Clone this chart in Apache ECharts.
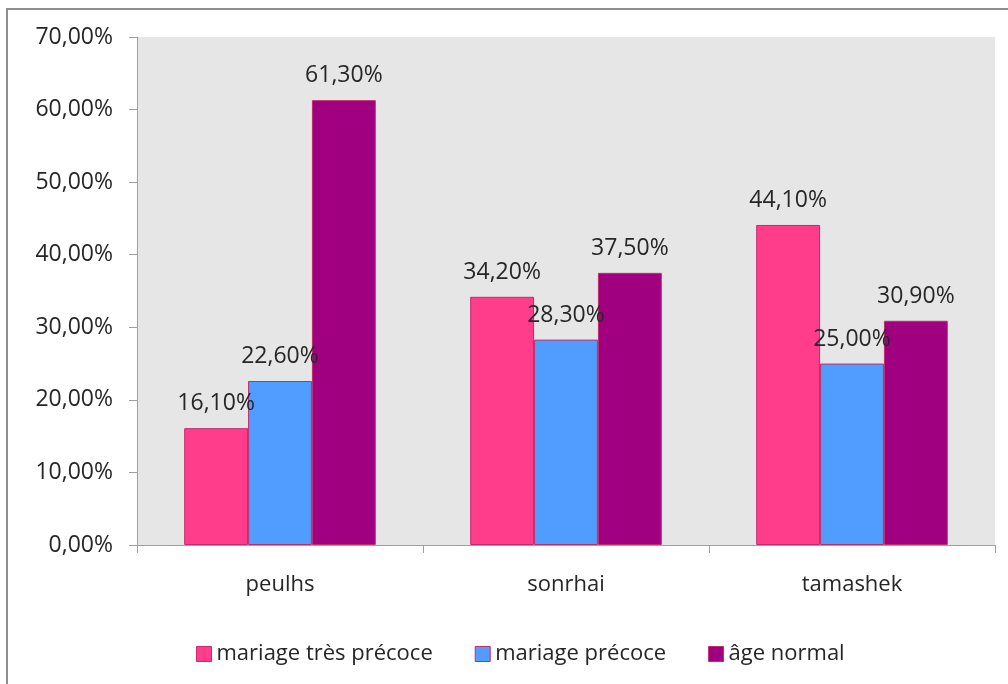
<!DOCTYPE html>
<html>
<head>
<meta charset="utf-8">
<script src="https://cdn.jsdelivr.net/npm/echarts@6/dist/echarts.min.js"></script>
<style>
  html, body { margin: 0; padding: 0; background: #fff; }
  #chart { width: 1008px; height: 684px; }
</style>
</head>
<body>
<div id="chart"></div>
<script>
// Groups along the x axis
const categories = ['peulhs', 'sonrhai', 'tamashek'];
// Share of marriages per age class (percent)
const tresPrecoce = [16.1, 34.2, 44.1];
const precoce = [22.6, 28.3, 25.0];
const ageNormal = [61.3, 37.5, 30.9];
const seriesNames = ['mariage très précoce', 'mariage précoce', 'âge normal'];
const seriesColors = ['#FF3D8B', '#509CFF', '#A0007F'];

const FONT = '"Open Sans", "Noto Sans", sans-serif';
const pct = v => v.toFixed(2).replace('.', ',') + '%';

const chart = echarts.init(document.getElementById('chart'), null, { renderer: 'canvas' });

function barSeries(name, data, color) {
  return {
    name: name,
    type: 'bar',
    data: data,
    barGap: '0%',
    barCategoryGap: '33%',
    itemStyle: { color: color, borderColor: '#BE2D6E', borderWidth: 1 },
    label: {
      show: true,
      position: 'top',
      distance: 13,
      formatter: p => pct(p.value),
      fontFamily: FONT,
      fontSize: 23,
      color: '#262626'
    },
    emphasis: { disabled: true }
  };
}

chart.setOption({
  animation: false,
  backgroundColor: '#ffffff',
  graphic: [{
    type: 'rect',
    shape: { x: 7, y: 9, width: 1200, height: 1000 },
    style: { fill: 'none', stroke: '#8E8E8E', lineWidth: 2 },
    silent: true
  }],
  grid: {
    left: 137, right: 13, top: 37, bottom: 139,
    show: true, backgroundColor: '#E6E6E6', borderWidth: 0
  },
  legend: {
    left: 191,
    top: 638,
    itemWidth: 15,
    itemHeight: 15,
    itemGap: 42,
    icon: 'rect',
    textStyle: { fontFamily: FONT, fontSize: 22, color: '#262626' },
    data: seriesNames.map((n, i) => ({ name: n, itemStyle: { color: seriesColors[i], borderColor: '#BE2D6E', borderWidth: 1 } }))
  },
  xAxis: {
    type: 'category',
    data: categories,
    axisLine: { show: true, lineStyle: { color: '#A0A0A0', width: 1 } },
    axisTick: { show: true, length: 8, lineStyle: { color: '#A0A0A0' } },
    axisLabel: { fontFamily: FONT, fontSize: 22, color: '#262626', margin: 29 }
  },
  yAxis: {
    type: 'value',
    min: 0,
    max: 70,
    interval: 10,
    axisLine: { show: true, lineStyle: { color: '#A0A0A0', width: 1 } },
    axisTick: { show: true, length: 8, lineStyle: { color: '#A0A0A0' } },
    splitLine: { show: false },
    axisLabel: { fontFamily: FONT, fontSize: 23, color: '#262626', margin: 24, formatter: v => pct(v) }
  },
  series: [
    barSeries(seriesNames[0], tresPrecoce, seriesColors[0]),
    barSeries(seriesNames[1], precoce, seriesColors[1]),
    barSeries(seriesNames[2], ageNormal, seriesColors[2])
  ]
});
</script>
</body>
</html>
